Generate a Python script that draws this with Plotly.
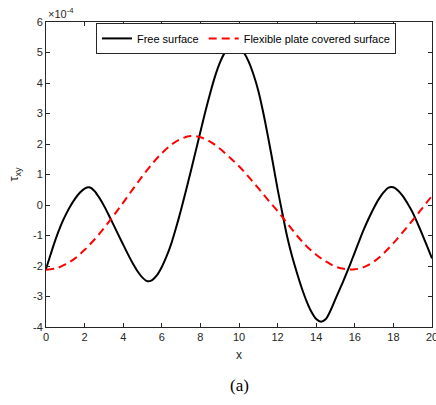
import plotly.graph_objects as go

# black curve: x positions and tau_xy (units of 1e-4)
free_x = [i * 0.25 for i in range(81)]
free_surface = [-2.10, -1.60, -1.12, -0.70, -0.35, -0.05, 0.20, 0.40, 0.54, 0.58,
                0.47, 0.25, -0.02, -0.33, -0.65, -0.98, -1.30, -1.62, -1.92, -2.18,
                -2.38, -2.50, -2.46, -2.30, -2.03, -1.68, -1.25, -0.72, -0.15, 0.47,
                1.10, 1.75, 2.40, 3.05, 3.65, 4.20, 4.65, 4.98, 5.18, 5.25,
                5.18, 5.00, 4.70, 4.28, 3.75, 3.05, 2.25, 1.40, 0.52, -0.28,
                -1.05, -1.68, -2.22, -2.72, -3.15, -3.50, -3.74, -3.83, -3.74, -3.45,
                -3.08, -2.72, -2.35, -1.96, -1.55, -1.14, -0.75, -0.40, -0.08, 0.20,
                0.42, 0.57, 0.58, 0.56, 0.28, 0.03, -0.25, -0.60, -0.97, -1.36, -1.75]
free_surface[73] = 0.47  # value at x = 18.25

# red dashed curve
plate_x = [i * 0.5 for i in range(41)]
plate_covered = [-2.12, -2.08, -1.95, -1.75, -1.47, -1.14, -0.76, -0.35, 0.08, 0.52, 0.95, 1.35,
                 1.70, 1.98, 2.17, 2.26, 2.22, 2.08, 1.85, 1.57, 1.27, 0.92, 0.55, 0.17, -0.20,
                 -0.60, -1.00, -1.35, -1.63, -1.85, -2.02, -2.10, -2.11, -2.03, -1.85, -1.58,
                 -1.25, -0.88, -0.50, -0.10, 0.30]

x_ticks = [0, 2, 4, 6, 8, 10, 12, 14, 16, 18, 20]
y_ticks = [-4, -3, -2, -1, 0, 1, 2, 3, 4, 5, 6]

axis_color = "#262626"
font_family = "Liberation Sans, Arial, sans-serif"

fig = go.Figure()
fig.add_trace(go.Scatter(x=free_x, y=free_surface, mode="lines", name="Free surface",
                         line=dict(color="black", width=2, shape="spline", smoothing=0.8)))
fig.add_trace(go.Scatter(x=plate_x, y=plate_covered, mode="lines",
                         name="Flexible plate covered surface",
                         line=dict(color="#ff0000", width=2, dash="8px,5px", shape="spline")))

fig.update_layout(
    width=436, height=405,
    margin=dict(l=46, r=4, t=22, b=78, autoexpand=False),
    paper_bgcolor="white", plot_bgcolor="white",
    font=dict(family=font_family, size=11, color=axis_color),
    showlegend=True,
    legend=dict(orientation="h", x=0.518, xanchor="center", y=0.997, yanchor="top",
                bordercolor=axis_color, borderwidth=1, bgcolor="white",
                font=dict(size=11, color="black"), itemwidth=30, tracegroupgap=0),
    xaxis=dict(range=[0, 20], tickvals=x_ticks, ticktext=[str(v) for v in x_ticks],
               ticks="inside", ticklen=4, tickcolor=axis_color, showline=True,
               linecolor=axis_color, linewidth=1, mirror="ticks", showgrid=False,
               zeroline=False, tickfont=dict(size=11, color=axis_color),
               ticklabeloverflow="allow", automargin=False,
               title=dict(text="x", font=dict(size=12, color=axis_color), standoff=8)),
    yaxis=dict(range=[-4, 6], tickvals=y_ticks, ticktext=[str(v) for v in y_ticks],
               ticks="inside", ticklen=4, tickcolor=axis_color, showline=True,
               linecolor=axis_color, linewidth=1, mirror="ticks", showgrid=False,
               zeroline=False, tickfont=dict(size=11, color=axis_color), automargin=False,
               title=dict(text="τ<sub>xy</sub>", font=dict(size=13, color=axis_color), standoff=11)),
    annotations=[
        dict(text="×10<sup>-4</sup>", xref="paper", yref="paper", x=0, y=1.0,
             xanchor="left", yanchor="bottom", showarrow=False,
             font=dict(size=11, color=axis_color)),
        dict(text="(a)", xref="paper", yref="paper", x=0.5, y=-0.155,
             xanchor="center", yanchor="top", showarrow=False,
             font=dict(family="Liberation Serif, Times New Roman, serif", size=17, color="black")),
    ],
)

fig.write_html("out.html")
